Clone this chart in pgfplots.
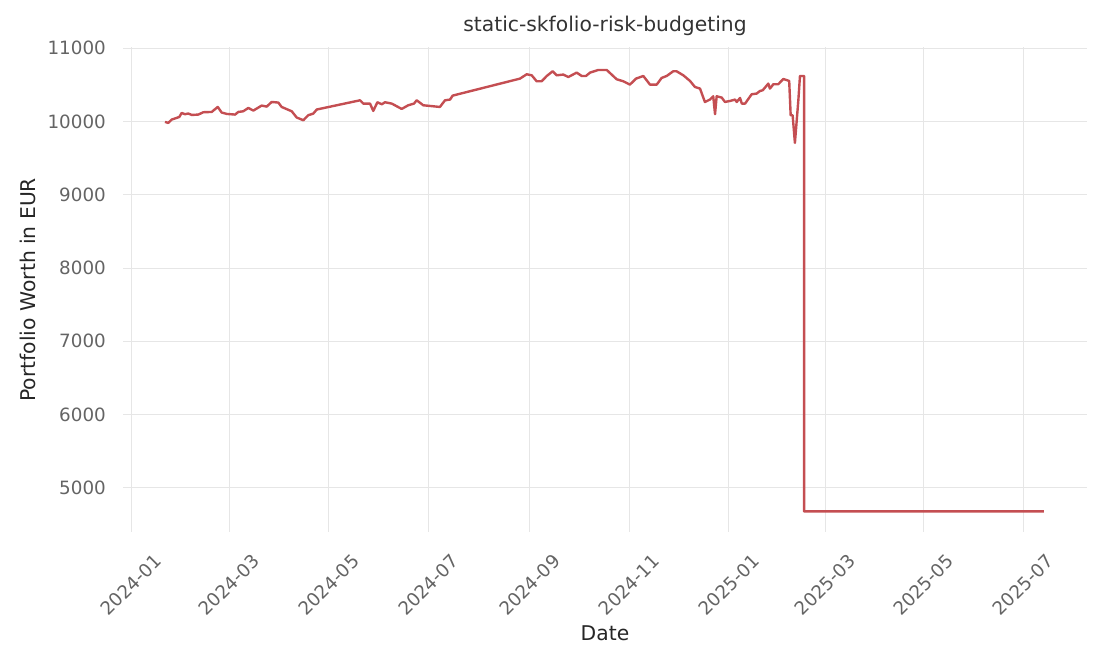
\documentclass[border=0pt]{standalone}
\usepackage{fontspec}
\setmainfont{DejaVu Sans}
\usepackage{pgfplots}
\pgfplotsset{compat=1.18}

\definecolor{linered}{RGB}{196,78,82}
\definecolor{gridgray}{RGB}{230,230,230}
\definecolor{tickgray}{RGB}{100,100,100}
\definecolor{labeldark}{RGB}{38,38,38}
\definecolor{titledark}{RGB}{51,51,51}

% days since 2024-01-01, portfolio worth in EUR
\pgfplotstableread{
day value
20.8 9995
22.8 9981
24.9 10027
28.0 10050
29.6 10063
31.0 10117
33.1 10100
35.1 10109
37.2 10090
41.2 10095
44.3 10127
49.4 10131
53.1 10199
55.5 10123
58.6 10104
63.7 10095
65.7 10131
68.7 10140
71.8 10185
74.9 10150
80.0 10218
83.1 10204
86.1 10267
90.2 10259
92.2 10199
98.4 10140
101.4 10055
105.5 10018
108.5 10086
111.6 10109
113.7 10164
140.2 10290
142.2 10245
146.3 10245
148.3 10145
150.8 10263
153.5 10236
155.5 10263
159.6 10245
165.7 10172
169.7 10222
173.2 10245
174.9 10290
178.9 10222
189.1 10199
192.2 10290
195.3 10300
196.9 10354
238.1 10586
242.2 10645
245.3 10631
248.3 10550
251.4 10550
254.5 10622
258.1 10686
260.6 10631
264.6 10641
267.7 10608
272.8 10668
275.9 10622
278.5 10622
281.0 10668
286.0 10704
291.2 10704
297.3 10577
301.3 10550
305.4 10504
309.1 10586
313.6 10622
317.7 10504
321.8 10504
324.8 10595
327.9 10622
331.9 10686
334.0 10686
338.1 10631
342.2 10554
345.2 10472
348.3 10450
351.3 10267
354.4 10300
356.4 10345
357.5 10100
358.5 10345
361.6 10327
363.6 10267
366.7 10281
369.8 10300
370.8 10267
372.8 10322
373.9 10245
375.9 10245
379.9 10372
383.0 10382
385.0 10417
386.7 10427
390.1 10518
391.1 10450
393.2 10509
396.2 10509
399.3 10581
402.9 10554
403.8 10086
405.0 10086
406.4 9708
408.5 10290
409.5 10622
412.0 10622
412.0 4676
558.8 4676
}\worth

\begin{document}
\begin{tikzpicture}
\path[use as bounding box] (0,0) rectangle (1110pt,666pt);
\begin{axis}[
  at={(123pt,134pt)}, anchor=south west,
  scale only axis,
  width=964pt, height=484.5pt,
  xmin=-4.9, xmax=585.2,
  ymin=4395, ymax=11011,
  axis line style={draw=none},
  major tick length=0pt,
  xtick={0,60,121,182,244,305,366,425,485,546},
  xticklabels={2024-01,2024-03,2024-05,2024-07,2024-09,2024-11,2025-01,2025-03,2025-05,2025-07},
  ytick={5000,6000,7000,8000,9000,10000,11000},
  scaled y ticks=false,
  yticklabel={\pgfmathprintnumber[fixed,1000 sep={}]{\tick}},
  /pgf/number format/assume math mode=true,
  grid=major,
  major grid style={draw=gridgray, line width=0.9pt},
  tick label style={font=\fontsize{18.3}{21}\selectfont, text=tickgray, inner sep=0pt},
  yticklabel style={anchor=east, xshift=-17pt},
  xticklabel style={anchor=center, yshift=-53pt, rotate=45},
  title={static-skfolio-risk-budgeting},
  title style={at={(0.5,1)}, anchor=base, yshift=10.3pt,
    font=\fontsize{20.3}{24}\selectfont, text=titledark},
  xlabel={Date},
  ylabel={Portfolio Worth in EUR},
  every axis x label/.style={at={(axis description cs:0.5,0)}, yshift=-108pt,
    anchor=base, font=\fontsize{20.3}{24}\selectfont, text=labeldark},
  every axis y label/.style={at={(axis description cs:0,0.5)}, xshift=-87pt,
    rotate=90, anchor=base, font=\fontsize{20.3}{24}\selectfont, text=labeldark},
]
\addplot[linered, line width=2.4pt, line join=round, no marks] table[x=day, y=value] {\worth};
\end{axis}
\end{tikzpicture}
\end{document}
